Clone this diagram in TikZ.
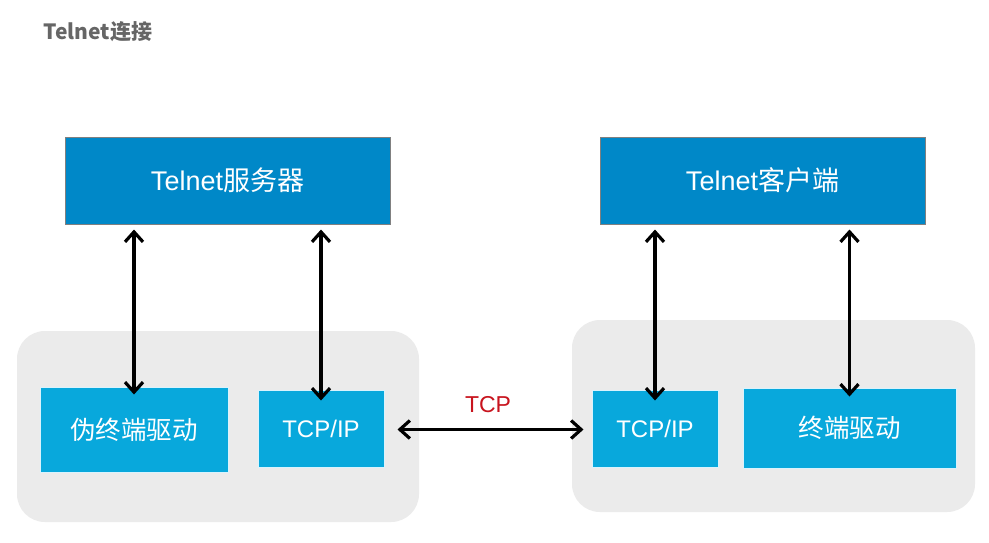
\documentclass[tikz,border=0pt]{standalone}
\usepackage{fontspec}
\setmainfont{Noto Sans CJK SC}
\newfontfamily\lat{Liberation Sans}
\usetikzlibrary{arrows.meta}
\definecolor{topblue}{RGB}{0,136,200}
\definecolor{lowblue}{RGB}{8,168,220}
\definecolor{panel}{RGB}{235,235,235}
\definecolor{titlegrey}{RGB}{102,102,102}
\definecolor{tcpred}{RGB}{200,20,30}
\tikzset{
  topbox/.style={fill=topblue, draw=gray, line width=1pt, text=white, font=\fontsize{27}{30}\selectfont, minimum width=325pt, minimum height=87pt, inner sep=0pt},
  lowbox/.style={fill=lowblue, draw=white!85!cyan, line width=1pt, text=white, font=\fontsize{25.5}{28}\selectfont, minimum height=80pt, inner sep=0pt},
  panelbox/.style={fill=panel, draw=none, rounded corners=28pt},
  dbl/.style={line width=3.2pt, draw=black, {Straight Barb[length=10pt,width=18pt]}-{Straight Barb[length=10pt,width=18pt]}}
}
\begin{document}
\begin{tikzpicture}[x=1pt,y=-1pt]
\useasboundingbox (0,0) rectangle (989,542);
\fill[white] (0,0) rectangle (989,542);
\node[anchor=west, text=titlegrey, font=\fontsize{21}{24}\selectfont\bfseries] (title) at (40,32) {Telnet连接};
% panels
\path[panelbox] (17,331) rectangle (419,522);
\path[panelbox] (572,320) rectangle (975,512);
% top boxes
\node[topbox] (srv) at (227.5,180.5) {{\lat Telnet}服务器};
\node[topbox] (cli) at (762.5,180.5) {{\lat Telnet}客户端};
% lower boxes
\node[lowbox, minimum width=188pt, minimum height=85pt] (pty) at (134,429.5) {伪终端驱动};
\node[lowbox, minimum width=126pt, minimum height=77pt, font=\lat\fontsize{24}{27}\selectfont] (tcpl) at (321,428.5) {TCP/IP};
\node[lowbox, minimum width=126pt, minimum height=77pt, font=\lat\fontsize{24}{27}\selectfont] (tcpr) at (655,428.5) {TCP/IP};
\node[lowbox, minimum width=213pt, minimum height=80pt] (term) at (849.5,428) {终端驱动};
% vertical arrows
\draw[dbl, shorten <=5pt] (srv.south -| pty.north) -- ([yshift=-8pt]pty.north);
\draw[dbl, shorten <=5pt] (srv.south -| tcpl.north) -- ([yshift=-11pt]tcpl.north);
\draw[dbl, shorten <=5pt] (cli.south -| tcpr.north) -- ([yshift=-11pt]tcpr.north);
\draw[dbl, shorten <=5pt] (cli.south -| term.north) -- ([yshift=-9pt]term.north);
% horizontal arrow
\draw[dbl, shorten <=13pt, shorten >=8pt] ([yshift=-1pt]tcpl.east) -- ([yshift=-1pt]tcpr.west) node[midway, above=12pt, text=tcpred, font=\lat\fontsize{23}{26}\selectfont] (tcplabel) {TCP};
\end{tikzpicture}
\end{document}
